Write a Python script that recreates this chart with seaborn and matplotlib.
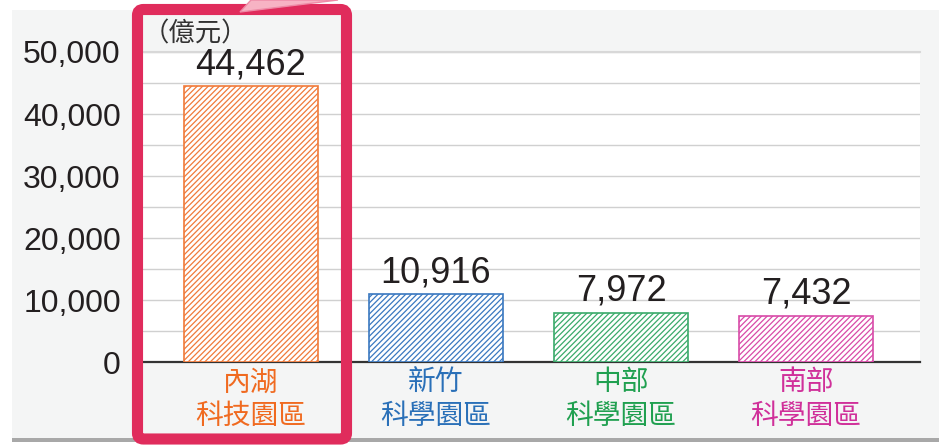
import matplotlib
matplotlib.use("Agg")
import matplotlib.pyplot as plt
import seaborn as sns
from matplotlib.patches import FancyBboxPatch, Rectangle, Polygon
from matplotlib.ticker import MultipleLocator, FuncFormatter

# data
parks = ["內湖\n科技園區", "新竹\n科學園區", "中部\n科學園區", "南部\n科學園區"]
revenue = [44462, 10916, 7972, 7432]
bar_colors = ["#f07a3a", "#3a78c0", "#3aaa6a", "#d84aa8"]
label_colors = ["#f06a20", "#2a70b8", "#20a050", "#d0309a"]
y_ticks = [0, 10000, 20000, 30000, 40000, 50000]
unit_label = "（億元）"

sns.set_theme(style="white")
plt.rcParams["font.family"] = ["Liberation Sans", "Noto Sans CJK TC", "DejaVu Sans"]
plt.rcParams["hatch.linewidth"] = 0.9

W, H = 939, 445
fig = plt.figure(figsize=(W / 100, H / 100), dpi=100)
fig.patch.set_facecolor("white")


def px_rect(x0, y0, x1, y1):
    """pixel box (top-left origin) -> inches box for dpi_scale_trans"""
    return x0 / 100, (H - y1) / 100, (x1 - x0) / 100, (y1 - y0) / 100


# card background + shadow
x, y, w, h = px_rect(12, 12, 939, 442)
fig.add_artist(Rectangle((x, y), w, h, transform=fig.dpi_scale_trans,
                         facecolor="#a8a8a8", edgecolor="none", zorder=-6))
x, y, w, h = px_rect(12, 10, 939, 438)
fig.add_artist(Rectangle((x, y), w, h, transform=fig.dpi_scale_trans,
                         facecolor="#f4f5f5", edgecolor="none", zorder=-5))

ax = fig.add_axes([143 / W, 83 / H, (920 - 143) / W, (362 - 52) / H])
ax.set_facecolor("white")

sns.barplot(x=parks, y=revenue, hue=parks, palette=bar_colors,
            legend=False, width=0.72, ax=ax, zorder=3)

for patch, c in zip(ax.patches, bar_colors):
    patch.set_facecolor("white")
    patch.set_edgecolor(c)
    patch.set_hatch("//////")
    patch.set_linewidth(1.2)

for i, v in enumerate(revenue):
    ax.annotate(f"{v:,}", (i, v), xytext=(0, 3), textcoords="offset points",
                ha="center", va="bottom", fontsize=26, color="#231f20")

ax.set_xlim(-0.584, 3.616)
ax.set_ylim(0, 50000)
ax.set_yticks(y_ticks)
ax.yaxis.set_major_formatter(FuncFormatter(lambda v, p: f"{int(v):,}"))
ax.yaxis.set_minor_locator(MultipleLocator(5000))
ax.grid(axis="y", which="both", color="#d0d0d0", linewidth=1.0, zorder=0)
ax.set_axisbelow(True)
ax.tick_params(axis="y", which="both", length=0, pad=16, labelsize=23,
               labelcolor="#231f20")
ax.tick_params(axis="x", length=0, pad=6, labelsize=20)
for lbl, c in zip(ax.get_xticklabels(), label_colors):
    lbl.set_color(c)
    lbl.set_linespacing(1.4)
ax.set_xlabel("")
ax.set_ylabel("")

ax.spines["left"].set_visible(False)
ax.spines["right"].set_visible(False)
ax.spines["top"].set_color("#d8d8d8")
ax.spines["top"].set_linewidth(1.5)
ax.spines["bottom"].set_color("#333333")
ax.spines["bottom"].set_linewidth(1.6)

fig.text(143 / W, 1 - 34 / H, unit_label, fontsize=19, color="#333333",
         ha="left", va="center")

# highlight frame around first park
x, y, w, h = px_rect(137.5, 9.5, 346.5, 439)
fig.add_artist(FancyBboxPatch((x, y), w, h, transform=fig.dpi_scale_trans,
                              boxstyle="round,pad=0,rounding_size=0.06",
                              facecolor="none", edgecolor="#e02c5c",
                              linewidth=8, zorder=10))
pts = [(240, 12), (251, 0), (338, 0)]
fig.add_artist(Polygon([(px_ / 100, (H - py) / 100) for px_, py in pts],
                       closed=True, transform=fig.dpi_scale_trans,
                       facecolor="#f7b3c4", edgecolor="#ee8aa6",
                       linewidth=1, zorder=11))

fig.savefig("out.png", dpi=100)
